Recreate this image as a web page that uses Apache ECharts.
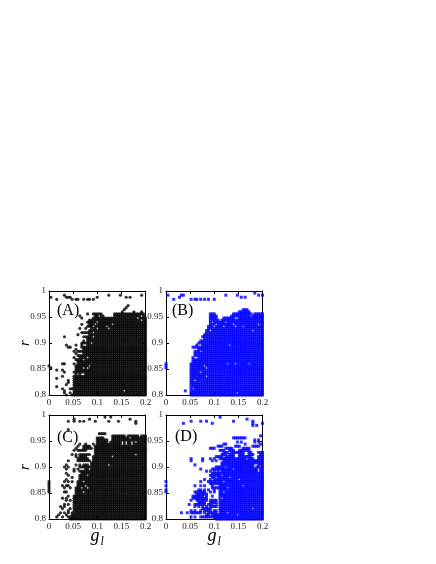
<!DOCTYPE html>
<html><head><meta charset="utf-8">
<style>html,body{margin:0;padding:0;background:#fff}#c{width:436px;height:564px}</style>
<script src="https://cdn.jsdelivr.net/npm/echarts@6/dist/echarts.min.js"></script>
</head><body><div id="c"></div>
<script>
// Values. *_start: first g of the solid block for rows r = 0.8, 0.804, ...
const gTicks = ['0','0.05','0.1','0.15','0.2'];
const rTicks = ['0.8','0.85','0.9','0.95','1'];
const panelNames = ['(A)','(B)','(C)','(D)'];

const A_start = [.048,.05,.05,.048,.052,.052,.052,.052,.052,.052,.056,.056,.056,.056,.056,.06,.06,.06,.064,.064,.072,.076,.076,.076,.08,.08,.08,.08,.084,.084,.084,.084,.088,.088,.088,.092,.096,.096];
const A_runs = [[.952,.096,.112],[.956,.092,.108],[.952,.136,.196],[.956,.136,.196],[.93,.078,.086],[.92,.072,.08],[.91,.07,.08],[.9,.068,.076],[.94,.08,.09],[.944,.085,.092],[.948,.09,.096],[.885,.06,.07]];
const A_points = [[.005,.988],[.017,.985],[.033,.99],[.036,.988],[.04,.987],[.043,.987],[.048,.985],[.054,.985],[.061,.985],[.072,.985],[.079,.985],[.086,.985],[.091,.985],[.1,.986],[.124,.99],[.148,.99],[.159,.988],[.166,.988],[.192,.99],
[0,.854],[.003,.852],[.014,.848],[.028,.859],[.032,.859],[.028,.846],[.029,.835],[.017,.832],[.017,.816],[.033,.844],[.038,.824],[.036,.819],[.04,.826],[.041,.829],[.029,.81],[.032,.808],[.031,.803],[.034,.8],[.043,.81],[.045,.803],[.033,.912],[.037,.897],[.04,.893],[.045,.891],
[.055,.897],[.057,.888],[.052,.885],[.055,.878],[.05,.871],[.054,.868],[.059,.875],[.062,.885],[.066,.891],[.069,.897],[.072,.904],[.066,.92],[.059,.917],[.062,.926],[.066,.938],[.066,.949],[.064,.954],[.072,.91],[.077,.929],[.081,.932],[.079,.956],[.086,.938],[.052,.859],[.055,.852],[.05,.843],[.052,.833],[.059,.859],[.066,.865],[.069,.875],[.072,.888],[.074,.9],[.066,.9],[.07,.892],[.08,.94],[.084,.944],[.15,.96],[.155,.962],[.16,.966],[.165,.97],[.176,.96],[.19,.96],[.196,.956]];
const A_holes = [[.155,.806],[.068,.838],[.07,.868],[.08,.87],[.082,.855],[.08,.85],[.072,.85],[.058,.838],[.06,.838],[.07,.84],[.09,.93],[.095,.935],[.1,.94],[.105,.952],[.12,.932],[.125,.928],[.13,.936],[.19,.945],[.185,.948],[.19,.952],[.09,.92],[.092,.91],[.088,.9],[.1,.928]];

const B_start = [.05,.05,.05,.05,.05,.05,.05,.05,.05,.05,.05,.05,.052,.052,.052,.052,.056,.056,.056,.06,.06,.064,.068,.072,.076,.08,.08,.08,.084,.084,.084,.084,.088,.088,.09,.09,.09];
const B_runs = [[.948,.09,.105],[.948,.12,.14],[.948,.15,.2],[.952,.09,.105],[.952,.135,.17],[.952,.18,.2],[.956,.092,.102],[.956,.14,.175],[.956,.185,.2],[.96,.15,.172],[.964,.16,.168],[.89,.056,.07],[.885,.058,.064],[.9,.066,.076],[.905,.07,.08],[.91,.074,.08],[.915,.078,.084],[.87,.054,.06]];
const B_points = [[.005,.99],[.016,.985],[.026,.988],[.03,.99],[.036,.99],[.051,.984],[.058,.983],[.063,.985],[.07,.983],[.078,.983],[.087,.983],[.099,.984],[.124,.99],[.147,.99],[.156,.988],[.162,.988],[.183,.994],[.19,.99],[.199,.993],
[0,.85],[0,.854],[0,.858],[.04,.807],[.056,.89],[.06,.885],[.064,.895],[.07,.9],[.074,.9],[.08,.91],[.084,.92],[.078,.912],[.072,.905]];
const B_holes = [[.13,.896],[.127,.86],[.143,.86],[.174,.86],[.146,.803],[.08,.857],[.084,.85],[.085,.835],[.07,.845],[.056,.81],[.06,.83],[.09,.925],[.1,.93],[.105,.935],[.12,.93],[.14,.938],[.145,.93],[.16,.93],[.18,.925],[.19,.935],[.095,.94],[.11,.945],[.125,.94],[.065,.87],[.07,.885],[.06,.872]];

const C_start = [.045,.045,.048,.048,.05,.05,.05,.052,.052,.052,.052,.052,.056,.056,.056,.056,.06,.06,.06,.064,.064,.064,.068,.072,.076,.08,.084,.088,.092,.092,.092,.096,.096,.096,.096,.096,.1,.1];
const C_runs = [[.952,.1,.12],[.952,.13,.2],[.956,.13,.165],[.956,.17,.2],[.96,.13,.155],[.96,.165,.185],[.96,.19,.2],[.958,.1,.112],[.962,.104,.114],[.93,.06,.075],[.934,.07,.09],[.925,.065,.08],[.92,.065,.075],[.915,.06,.08],[.94,.07,.08],[.91,.065,.085],[.905,.07,.08],[.9,.065,.078],[.89,.065,.07]];
const C_points = [[.052,.987],[.052,.99],[.062,.987],[.072,.989],[.083,.99],[.097,.989],[.116,.997],[.128,.995],[.124,.986],[.145,.989],[.168,.992],[.178,.988],[.179,.984],[.038,.986],[.038,.973],[.038,.97],
[0,.85],[0,.854],[0,.858],[0,.862],[0,.866],[0,.87],
[.017,.803],[.021,.806],[.024,.81],[.028,.803],[.031,.812],[.034,.806],[.038,.803],[.041,.81],[.028,.82],[.033,.825],[.038,.817],[.043,.82],[.024,.824],[.03,.83],[.036,.835],[.04,.83],[.045,.835],[.034,.84],[.028,.838],[.041,.845],[.031,.85],[.036,.85],[.033,.86],[.027,.865],[.031,.87],[.036,.865],[.039,.872],[.041,.862],[.034,.875],[.037,.887],[.034,.895],[.031,.9],[.034,.903],[.038,.9],[.038,.912],[.041,.885],[.045,.86],[.048,.87],[.048,.88],[.05,.89],[.053,.897],[.057,.905],[.06,.912],[.054,.918],[.048,.925],[.052,.93],[.056,.935],[.06,.94],[.055,.925],[.065,.945],[.07,.94],[.075,.945],[.07,.93],[.063,.925],[.075,.925],[.08,.935],[.085,.94],[.09,.945],[.085,.925],[.068,.915],[.072,.91],[.078,.905],[.065,.903],[.07,.9],[.06,.895],[.068,.89],[.075,.895]];
const C_holes = [[.07,.87],[.075,.865],[.068,.86],[.072,.85],[.08,.86],[.055,.876],[.132,.92],[.125,.905],[.18,.925],[.125,.948],[.15,.948],[.16,.948],[.17,.948],[.18,.948],[.15,.944],[.16,.944],[.17,.944],[.085,.895],[.08,.885],[.084,.905],[.088,.915],[.09,.925],[.084,.93],[.09,.935],[.088,.92]];

const D_start = [.105,.105,.105,.11,.11,.11,.11,.11,.11,.11,.11,.11,.11,.11,.11,.11,.11,.112,.112,.112,.112,.112,.112,.114,.116,.116];
const D_runs = [[.904,.116,.18],[.904,.19,.2],[.908,.116,.19],[.908,.195,.2],[.912,.12,.15],[.912,.155,.178],[.912,.185,.2],[.916,.11,.12],[.916,.125,.165],[.916,.17,.18],[.916,.19,.2],[.92,.105,.115],[.92,.125,.14],[.92,.15,.175],[.92,.19,.2],[.924,.115,.125],[.924,.13,.142],[.924,.15,.16],[.924,.17,.18],[.924,.195,.2],[.928,.12,.128],[.928,.136,.16],[.928,.17,.176],[.928,.19,.2],[.932,.11,.12],[.932,.13,.14],[.932,.152,.17],[.936,.09,.1],[.936,.125,.135],[.936,.16,.17],[.94,.108,.116],[.94,.145,.15],[.94,.18,.19],[.955,.142,.162],
[.828,.06,.08],[.832,.066,.078],[.836,.062,.078],[.84,.056,.082],[.844,.06,.07],[.848,.065,.085],[.852,.06,.075],[.82,.075,.09],[.812,.06,.072],[.804,.08,.105],[.808,.085,.105],[.812,.09,.105],[.816,.085,.105],[.824,.09,.105],[.828,.09,.105],[.832,.092,.105],[.836,.085,.105],[.868,.09,.108],[.872,.094,.108],[.876,.09,.11],[.88,.095,.11],[.884,.1,.11],[.888,.095,.11],[.86,.095,.11],[.896,.1,.116],[.9,.105,.116]];
const D_scatter = [[.804,[.05,.06,.07,.075,.085,.09,.095]],[.81,[.052,.056,.066,.07,.08,.088,.1,.03,.045]],[.816,[.05,.06,.072,.08,.09,.096]],[.824,[.06,.068,.076,.084,.092,.1]],[.83,[.046,.058,.07,.078,.088,.096]],[.836,[.05,.062,.066,.072,.08,.09,.098]],[.842,[.056,.064,.07,.076,.086,.094]],[.85,[.06,.068,.074,.08,.09,.1,0]],[.856,[.066,.07,.078,.088,.098,0]],[.862,[.06,.072,.08,.096,0]],[.87,[.072,.088,.092,.098,.1,0]],[.876,[.08,.09,.1,.104]],[.884,[.09,.096,.1,.106]],[.89,[.084,.092,.1,.108]],[.896,[.07,.095,.105]],[.904,[.06,.115]],[.91,[.052,.075,.095,.105]],[.916,[.052,.075,.09,.1]],[.945,[.12,.125,.165,.195]],[.948,[.148,.155,.185,.19]],[.96,[.197]],[.954,[.183,.19]]];
const D_points = [[.036,.983],[.051,.987],[.07,.987],[.083,.986],[.094,.982],[.113,.994],[.142,.987],[.167,.99],[.178,.987],[.18,.982],[.188,.98],[.198,.983],[.181,.978]];
const D_holes = [[.15,.875],[.127,.86],[.16,.865],[.126,.81],[.148,.806],[.18,.82],[.125,.9],[.14,.895],[.185,.9],[.19,.895],[.19,.89],[.195,.9],[.115,.885],[.12,.87],[.13,.88],[.115,.84],[.12,.85],[.092,.808],[.096,.816],[.1,.828],[.088,.836],[.104,.88],[.096,.876]];

const panels = [
 {start:A_start,runs:A_runs,points:A_points,holes:A_holes,scatter:[],color:'#000',symbol:'circle',size:3.2},
 {start:B_start,runs:B_runs,points:B_points,holes:B_holes,scatter:[],color:'#0000ff',symbol:'rect',size:3},
 {start:C_start,runs:C_runs,points:C_points,holes:C_holes,scatter:[],color:'#000',symbol:'circle',size:3.2},
 {start:D_start,runs:D_runs,points:D_points,holes:D_holes,scatter:D_scatter,color:'#0000ff',symbol:'rect',size:3}
];
const STEP = .004;
const cell = v => Math.round(v/STEP);
function cells(p){
  const on = new Map();
  const add = (g,r)=>on.set(cell(g)+'_'+cell(r),[cell(g)*STEP,cell(r)*STEP]);
  p.start.forEach((g0,i)=>{ for(let c=cell(g0);c<=50;c++) add(c*STEP,.8+i*STEP); });
  p.runs.forEach(([r,g0,g1])=>{ for(let c=cell(g0);c<=cell(g1);c++) add(c*STEP,r); });
  p.scatter.forEach(([r,gs])=>gs.forEach(g=>add(g,r)));
  p.points.forEach(([g,r])=>add(g,r));
  p.holes.forEach(([g,r])=>on.delete(cell(g)+'_'+cell(r)));
  return [...on.values()];
}
const L = [49,166], T = [291,415], W = 96.5, H = 104;
const font = 'Liberation Serif';
const grid=[],xAxis=[],yAxis=[],series=[],graphic=[];
const labelPos=[[57,303],[172,303],[57,430],[175,429]];
panels.forEach((p,i)=>{
  const col=i%2,row=i>>1;
  grid.push({left:L[col],top:T[row],width:W,height:H,containLabel:false});
  const axisBase={splitLine:{show:false},axisLine:{show:true,onZero:false,lineStyle:{color:'#000',width:1}},
    axisTick:{inside:true,length:3,lineStyle:{color:'#000',width:1}},
    axisLabel:{fontFamily:font,fontSize:9,color:'#222',margin:3}};
  xAxis.push({...axisBase,type:'value',gridIndex:i,min:0,max:.2,interval:.05,
    axisLabel:{...axisBase.axisLabel,formatter:(v,k)=>gTicks[k]},
    name:row?'{g|g}{l|l}':'',nameLocation:'middle',nameGap:8,nameMoveOverlap:false,
    nameTextStyle:{verticalAlign:'top',rich:{g:{fontFamily:font,fontStyle:'italic',fontSize:18,color:'#000',padding:[0,0,6,0]},l:{fontFamily:font,fontStyle:'italic',fontSize:12,color:'#000',padding:[6,0,0,1]}}}});
  yAxis.push({...axisBase,type:'value',gridIndex:i,min:.8,max:1,interval:.05,
    axisLabel:{...axisBase.axisLabel,formatter:(v,k)=>rTicks[k]},
    name:col?'':'r',nameLocation:'middle',nameGap:16,nameRotate:90,nameMoveOverlap:false,
    nameTextStyle:{fontFamily:font,fontStyle:'italic',fontSize:15,color:'#000'}});
  xAxis.push({...axisBase,type:'value',gridIndex:i,position:'top',min:0,max:.2,interval:.05,axisLabel:{show:false}});
  yAxis.push({...axisBase,type:'value',gridIndex:i,position:'right',min:.8,max:1,interval:.05,axisLabel:{show:false}});
  series.push({type:'scatter',xAxisIndex:i*2,yAxisIndex:i*2,data:cells(p),symbol:p.symbol,symbolSize:p.size,
    itemStyle:{color:p.color},animation:false,silent:true,clip:false,large:false,z:1});
  graphic.push({type:'text',left:labelPos[i][0],top:labelPos[i][1],z:10,
    style:{text:panelNames[i],font:'16px "'+font+'"',fill:'#000'}});
});
echarts.init(document.getElementById('c'),null,{renderer:'canvas'}).setOption({
  animation:false,backgroundColor:'#fff',grid,xAxis,yAxis,series,graphic
});
</script></body></html>
